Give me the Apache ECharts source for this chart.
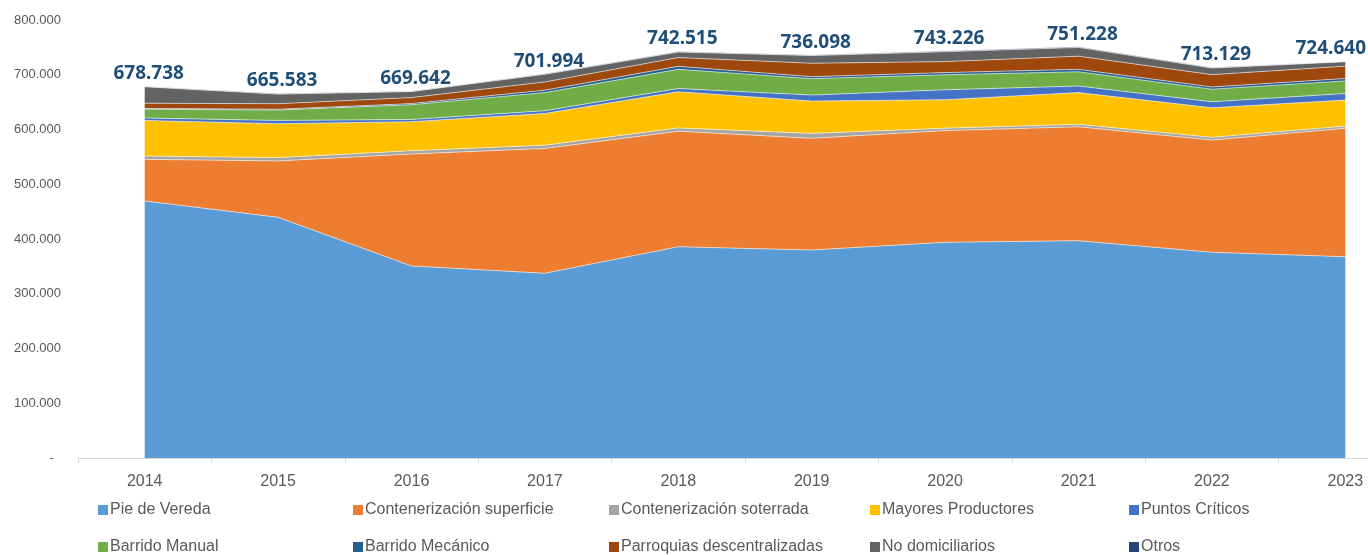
<!DOCTYPE html>
<html lang="es">
<head>
<meta charset="UTF-8">
<title>Residuos recolectados por modalidad</title>
<style>
  html, body { margin: 0; padding: 0; background: #fff; }
  #chart { width: 1368px; height: 555px; }
</style>
</head>
<body>
<div id="chart"></div>
<script src="https://cdn.jsdelivr.net/npm/echarts@6/dist/echarts.min.js"></script>
<script>
// datos (toneladas)
var years = ['2014', '2015', '2016', '2017', '2018', '2019', '2020', '2021', '2022', '2023'];
var pieVereda   = [469500, 439600, 350700, 337400, 385900, 379900, 394000, 396900, 375700, 367700];
var contSuperf  = [76000, 103000, 204600, 228000, 211000, 204000, 204000, 208000, 205000, 234500];
var contSoterr  = [6000, 6000, 6000, 6000, 6000, 9000, 4500, 4500, 5000, 4000];
var mayores     = [65000, 62000, 53000, 58000, 66000, 59000, 52000, 58000, 54000, 47500];
var puntos      = [4500, 6000, 4000, 5000, 6000, 11000, 18000, 12000, 11000, 12000];
var barManual   = [16000, 19000, 27000, 33000, 35000, 30000, 27500, 26000, 23000, 23000];
var barMecanico = [1500, 1500, 2000, 4500, 5500, 3600, 4000, 4500, 4000, 4500];
var parroquias  = [9500, 10000, 11000, 15000, 16000, 24500, 20000, 24000, 22500, 22500];
var noDomic     = [30000, 17500, 11000, 14000, 10000, 14000, 18000, 16000, 12000, 8000];
var otros       = [700, 1000, 500, 1000, 1000, 1000, 1500, 1200, 1000, 1000];
var totales     = [678738, 665583, 669642, 701994, 742515, 736098, 743226, 751228, 713129, 724640];
var yTicks      = [0, 100000, 200000, 300000, 400000, 500000, 600000, 700000, 800000];

var names = ['Pie de Vereda', 'Contenerización superficie', 'Contenerización soterrada',
  'Mayores Productores', 'Puntos Críticos', 'Barrido Manual', 'Barrido Mecánico',
  'Parroquias descentralizadas', 'No domiciliarios', 'Otros'];
var values = [pieVereda, contSuperf, contSoterr, mayores, puntos, barManual, barMecanico,
  parroquias, noDomic, otros];
var colors = ['#5B9BD5', '#ED7D31', '#A5A5A5', '#FFC000', '#4472C4', '#70AD47', '#255E91',
  '#9E480E', '#636363', '#264478'];

function miles(n) {
  return String(n).replace(/\B(?=(\d{3})+(?!\d))/g, '.');
}

var chart = echarts.init(document.getElementById('chart'));

var series = names.map(function (name, i) {
  var last = i === names.length - 1;
  var s = {
    name: name,
    type: 'line',
    stack: 'total',
    data: values[i],
    symbol: last ? 'circle' : 'none',
    symbolSize: 0.01,
    showSymbol: last,
    color: colors[i],
    lineStyle: { width: 1, color: 'rgba(255,255,255,0.55)' },
    areaStyle: { color: colors[i], opacity: 1 },
    emphasis: { disabled: true }
  };
  if (last) {
    // total encima de la pila
    s.label = {
      show: true,
      position: 'top',
      distance: 3,
      fontFamily: 'Noto Sans',
      fontWeight: 'bold',
      fontSize: 19,
      color: '#1F4E79',
      formatter: function (p) { return miles(totales[p.dataIndex]); }
    };
    s.labelLayout = function (p) {
      var r = p.labelRect;
      var cx = r.x + r.width / 2 + 4;
      if (cx + r.width / 2 > 1366) cx = 1366 - r.width / 2;
      return { x: cx, y: r.y + r.height / 2, align: 'center', verticalAlign: 'middle' };
    };
  }
  return s;
});

// leyenda en rejilla de 5 columnas
var colX = [98, 353, 609, 870, 1129];
var rowY = [502, 539];
var legends = names.map(function (name, i) {
  return {
    data: [name],
    left: colX[i % 5],
    top: rowY[Math.floor(i / 5)],
    padding: 0,
    itemWidth: 10,
    itemHeight: 10,
    itemGap: 0,
    icon: 'rect',
    selectedMode: false,
    textStyle: { fontFamily: 'Liberation Sans', fontSize: 16, color: '#595959', padding: [0, 0, 0, -3] }
  };
});

var option = {
  animation: false,
  backgroundColor: '#fff',
  grid: { left: 78, top: 20, width: 1334, height: 438, containLabel: false, outerBoundsMode: 'none' },
  legend: legends,
  xAxis: {
    type: 'category',
    data: years,
    boundaryGap: true,
    axisLine: { lineStyle: { color: '#D9D9D9', width: 1 } },
    axisTick: { show: true, length: 5, lineStyle: { color: '#D9D9D9' } },
    axisLabel: { interval: 0, margin: 16, fontFamily: 'Liberation Sans', fontSize: 16, color: '#595959' }
  },
  yAxis: {
    type: 'value',
    min: yTicks[0],
    max: yTicks[yTicks.length - 1],
    interval: yTicks[1] - yTicks[0],
    axisLine: { show: false },
    axisTick: { show: false },
    splitLine: { show: false },
    axisLabel: {
      margin: 17,
      fontFamily: 'Liberation Sans',
      fontSize: 13,
      color: '#595959',
      formatter: function (v) { return v === 0 ? '-  ' : miles(v); }
    }
  },
  series: series
};

chart.setOption(option);
</script>
</body>
</html>
